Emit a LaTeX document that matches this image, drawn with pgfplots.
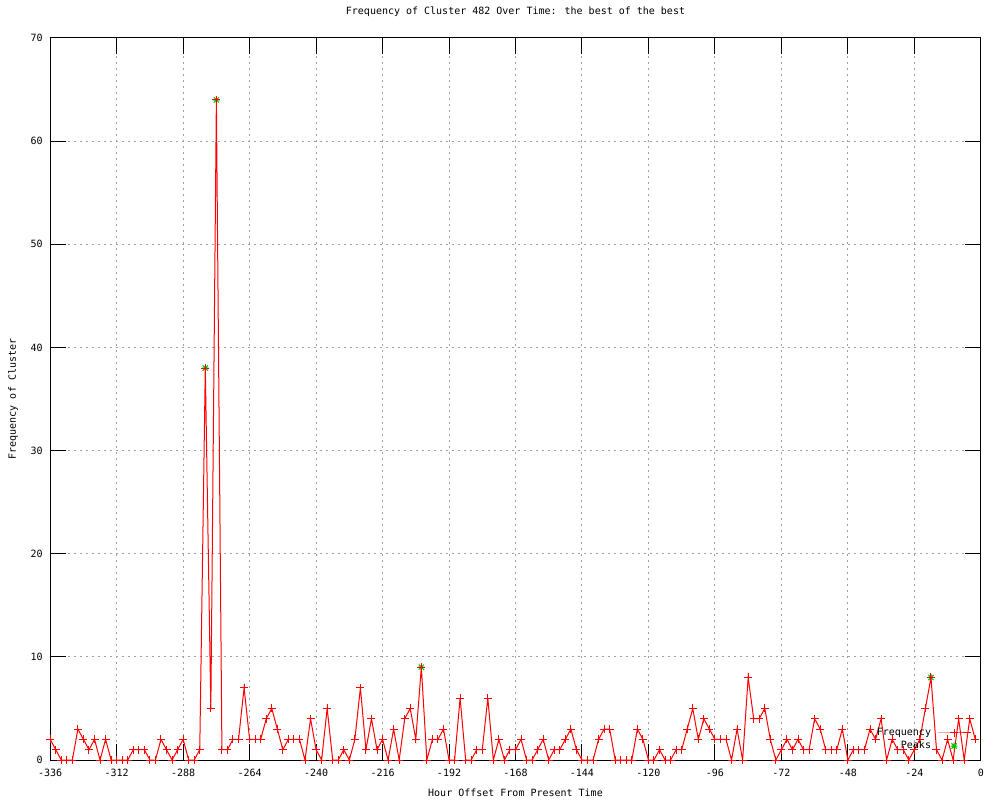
\documentclass[border=0pt]{standalone}
\usepackage{fontspec}
\setmainfont{DejaVu Sans Mono}
\setmonofont{DejaVu Sans Mono}
\usepackage{pgfplots}
\pgfplotsset{compat=1.18}
\usepackage{pgfplotstable}
\definecolor{gpred}{RGB}{255,0,0}
\definecolor{gpgreen}{RGB}{0,192,0}
\definecolor{gpgrid}{RGB}{160,160,160}
\pgfdeclareplotmark{gstar}{%
  \pgfpathmoveto{\pgfqpoint{-\pgfplotmarksize}{0pt}}%
  \pgfpathlineto{\pgfqpoint{\pgfplotmarksize}{0pt}}%
  \pgfpathmoveto{\pgfqpoint{0pt}{-\pgfplotmarksize}}%
  \pgfpathlineto{\pgfqpoint{0pt}{\pgfplotmarksize}}%
  \pgfpathmoveto{\pgfqpoint{-0.75\pgfplotmarksize}{-0.75\pgfplotmarksize}}%
  \pgfpathlineto{\pgfqpoint{0.75\pgfplotmarksize}{0.75\pgfplotmarksize}}%
  \pgfpathmoveto{\pgfqpoint{-0.75\pgfplotmarksize}{0.75\pgfplotmarksize}}%
  \pgfpathlineto{\pgfqpoint{0.75\pgfplotmarksize}{-0.75\pgfplotmarksize}}%
  \pgfusepathqstroke}
\pgfplotsset{
  peaklegend/.style={legend image code/.code={\path[##1] plot coordinates {(16.5pt,0pt)}; \path (0pt,0pt) (33pt,0pt);}},
  freqlegend/.style={legend image code/.code={\draw[##1, mark repeat=2, mark phase=2] plot coordinates {(0pt,0pt)(16.5pt,0pt)(33pt,0pt)};}},
}
\pgfplotstableread{
h v
-336 2
-334 1
-332 0
-330 0
-328 0
-326 3
-324 2
-322 1
-320 2
-318 0
-316 2
-314 0
-312 0
-310 0
-308 0
-306 1
-304 1
-302 1
-300 0
-298 0
-296 2
-294 1
-292 0
-290 1
-288 2
-286 0
-284 0
-282 1
-280 38
-278 5
-276 64
-274 1
-272 1
-270 2
-268 2
-266 7
-264 2
-262 2
-260 2
-258 4
-256 5
-254 3
-252 1
-250 2
-248 2
-246 2
-244 0
-242 4
-240 1
-238 0
-236 5
-234 0
-232 0
-230 1
-228 0
-226 2
-224 7
-222 1
-220 4
-218 1
-216 2
-214 0
-212 3
-210 0
-208 4
-206 5
-204 2
-202 9
-200 0
-198 2
-196 2
-194 3
-192 0
-190 0
-188 6
-186 0
-184 0
-182 1
-180 1
-178 6
-176 0
-174 2
-172 0
-170 1
-168 1
-166 2
-164 0
-162 0
-160 1
-158 2
-156 0
-154 1
-152 1
-150 2
-148 3
-146 1
-144 0
-142 0
-140 0
-138 2
-136 3
-134 3
-132 0
-130 0
-128 0
-126 0
-124 3
-122 2
-120 0
-118 0
-116 1
-114 0
-112 0
-110 1
-108 1
-106 3
-104 5
-102 2
-100 4
-98 3
-96 2
-94 2
-92 2
-90 0
-88 3
-86 0
-84 8
-82 4
-80 4
-78 5
-76 2
-74 0
-72 1
-70 2
-68 1
-66 2
-64 1
-62 1
-60 4
-58 3
-56 1
-54 1
-52 1
-50 3
-48 0
-46 1
-44 1
-42 1
-40 3
-38 2
-36 4
-34 0
-32 2
-30 1
-28 1
-26 0
-24 1
-22 2
-20 5
-18 8
-16 1
-14 0
-12 2
-10 0
-8 4
-6 0
-4 4
-2 2
}\freqdata
\pgfplotstableread{
h v
-280 38
-276 64
-202 9
-18 8
}\peakdata
\begin{document}
\begin{tikzpicture}
\useasboundingbox (0,0) rectangle (1000pt,800pt);
\begin{axis}[
  at={(50.2pt,40pt)}, anchor=south west,
  scale only axis, width=930.6pt, height=722pt,
  xmin=-336, xmax=0, ymin=0, ymax=70,
  xtick={-336,-312,-288,-264,-240,-216,-192,-168,-144,-120,-96,-72,-48,-24,0},
  xticklabels={-336,-312,-288,-264,-240,-216,-192,-168,-144,-120,-96,-72,-48,-24,0},
  ytick={0,10,20,30,40,50,60,70},
  yticklabels={0,10,20,30,40,50,60,70},
  tick align=inside, major tick length=16pt,
  every tick/.style={black, line width=1pt},
  axis line style={black, line width=1pt},
  grid=major,
  major grid style={gpgrid, line width=1pt, dash pattern=on 2pt off 4pt},
  font=\fontsize{10}{12}\selectfont,
  xticklabel style={anchor=center, yshift=-13pt},
  yticklabel style={xshift=-4pt},
  title={Frequency of Cluster 482 Over Time: the best of the best},
  title style={at={(0.5,1)}, anchor=center, yshift=20pt},
  xlabel={Hour Offset From Present Time},
  xlabel style={at={(0.5,0)}, anchor=center, yshift=-33pt},
  ylabel={Frequency of Cluster},
  ylabel style={at={(0,0.5)}, anchor=center, yshift=37pt},
  clip mode=individual,
  reverse legend,
  legend style={at={(0.9895,0.0284)}, anchor=east, draw=none, fill=none,
    inner sep=0pt, outer sep=0pt,
    font=\fontsize{10}{12}\selectfont,
    nodes={inner sep=1pt, text height=7pt, text depth=2pt},
    /tikz/every odd column/.append style={column sep=5pt},
    /tikz/every even column/.append style={column sep=0pt},
    row sep=2pt},
  legend cell align=right,
  legend plot pos=right,
]
\addplot[gpgreen, line width=1pt, only marks, mark=gstar, mark size=3.5pt, peaklegend]
  table[x=h, y=v] {\peakdata};
\addlegendentry{Peaks}
\addplot[gpred, line width=1pt, mark=+, mark size=4pt, freqlegend]
  table[x=h, y=v] {\freqdata};
\addlegendentry{Frequency}
\end{axis}
\end{tikzpicture}
\end{document}
